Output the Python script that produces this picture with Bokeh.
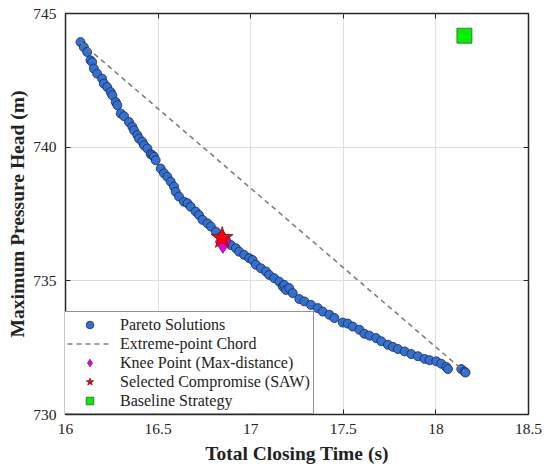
from bokeh.plotting import figure
from bokeh.models import Range1d, LinearAxis, FixedTicker, NumeralTickFormatter
from bokeh.embed import file_html
from bokeh.resources import INLINE

# ---- data ----
pareto_time = [
    16.081, 16.099, 16.117, 16.135, 16.144, 16.153, 16.171, 16.198, 16.207, 16.225,
    16.244, 16.253, 16.271, 16.280, 16.298, 16.316, 16.343, 16.361, 16.370, 16.388,
    16.397, 16.415, 16.424, 16.442, 16.460, 16.469, 16.478, 16.487, 16.514, 16.532,
    16.550, 16.568, 16.586, 16.595, 16.613, 16.640, 16.659, 16.676, 16.703, 16.721,
    16.740, 16.767, 16.785, 16.812, 16.839, 16.866, 16.893, 16.920, 16.938, 16.965,
    16.992, 17.010, 17.028, 17.055, 17.082, 17.100, 17.127, 17.154, 17.173, 17.181,
    17.190, 17.208, 17.227, 17.262, 17.290, 17.326, 17.362, 17.389, 17.425, 17.452,
    17.497, 17.524, 17.551, 17.587, 17.614, 17.641, 17.677, 17.705, 17.741, 17.768,
    17.795, 17.831, 17.867, 17.903, 17.939, 17.966, 18.002, 18.029, 18.056, 18.065,
    18.137, 18.155, 18.160,
]
pareto_head = [
    743.93, 743.74, 743.56, 743.25, 743.18, 742.94, 742.75, 742.56, 742.38, 742.25,
    742.06, 741.94, 741.69, 741.57, 741.26, 741.16, 740.94, 740.76, 740.63, 740.45,
    740.32, 740.20, 740.07, 739.95, 739.74, 739.70, 739.64, 739.51, 739.20, 739.02,
    738.89, 738.71, 738.52, 738.33, 738.15, 737.96, 737.90, 737.77, 737.59, 737.46,
    737.28, 737.15, 737.03, 736.84, 736.65, 736.53, 736.34, 736.22, 736.09, 735.97,
    735.85, 735.78, 735.60, 735.47, 735.35, 735.22, 735.10, 734.97, 734.79, 734.85,
    734.66, 734.73, 734.54, 734.32, 734.23, 734.10, 733.98, 733.85, 733.73, 733.61,
    733.44, 733.40, 733.29, 733.17, 733.02, 732.95, 732.86, 732.74, 732.61, 732.53,
    732.45, 732.36, 732.26, 732.18, 732.08, 732.03, 731.99, 731.90, 731.78, 731.70,
    731.70, 731.60, 731.57,
]
chord_time = [16.081, 18.155]
chord_head = [743.93, 731.60]
knee_time = [16.850]
knee_head = [736.46]
saw_time = [16.846]
saw_head = [736.60]
base_time = [18.154]
base_head = [744.17]

x_ticks = [16, 16.5, 17, 17.5, 18, 18.5]
x_tick_labels = ["16", "16.5", "17", "17.5", "18", "18.5"]
y_ticks = [730, 735, 740, 745]
y_tick_labels = ["730", "735", "740", "745"]

SERIF = "Liberation Serif"
INK = "#222222"

p = figure(width=550, height=476, output_backend="svg", toolbar_location=None,
           x_range=Range1d(16, 18.5), y_range=Range1d(730, 745),
           min_border_left=65, min_border_right=22, min_border_top=13, min_border_bottom=62)
p.background_fill_color = "white"
p.border_fill_color = "white"
p.outline_line_color = "#262626"
p.outline_line_width = 1.5

# grid
p.xgrid.ticker = FixedTicker(ticks=x_ticks)
p.ygrid.ticker = FixedTicker(ticks=y_ticks)
for g in (p.xgrid, p.ygrid):
    g.grid_line_color = "#dedede"
    g.grid_line_width = 1

def style_axis(ax, ticks, labels, show_labels=True):
    ax.ticker = FixedTicker(ticks=ticks)
    ax.formatter = NumeralTickFormatter(format="0.[0]")
    ax.axis_line_color = None
    ax.major_tick_in = 5
    ax.major_tick_out = 0
    ax.major_tick_line_color = "#262626"
    ax.major_tick_line_width = 1
    ax.minor_tick_line_color = None
    ax.major_label_text_font = SERIF
    if show_labels:
        ax.major_label_overrides = {t: l for t, l in zip(ticks, labels)}
        ax.major_label_text_font_size = "15.5px"
        ax.major_label_text_color = INK
    else:
        ax.major_label_text_font_size = "8px"
        ax.major_label_text_color = None
        ax.major_label_standoff = 0

style_axis(p.xaxis[0], x_ticks, x_tick_labels)
style_axis(p.yaxis[0], y_ticks, y_tick_labels)
p.xaxis[0].major_label_standoff = 9
p.yaxis[0].major_label_standoff = 9

p.xaxis.axis_label = "Total Closing Time (s)"
p.yaxis.axis_label = "Maximum Pressure Head (m)"
for ax in (p.xaxis[0], p.yaxis[0]):
    ax.axis_label_text_font = SERIF
    ax.axis_label_text_font_style = "bold"
    ax.axis_label_text_font_size = "19.5px"
    ax.axis_label_text_color = INK
p.xaxis[0].axis_label_standoff = 6
p.yaxis[0].axis_label_standoff = 2

top_ax = LinearAxis()
style_axis(top_ax, x_ticks, x_tick_labels, show_labels=False)
p.add_layout(top_ax, "above")
right_ax = LinearAxis()
style_axis(right_ax, y_ticks, y_tick_labels, show_labels=False)
p.add_layout(right_ax, "right")

# glyphs
p.scatter(pareto_time, pareto_head, marker="circle", size=9,
          fill_color="#3270d2", line_color="#1c2850", line_width=0.8,
          legend_label="Pareto Solutions")
p.line(chord_time, chord_head, line_color="#7f7f7f", line_width=1.6,
       line_dash="5 4", legend_label="Extreme-point Chord")
p.scatter(knee_time, knee_head, marker="diamond", size=23,
          fill_color="#e400e4", line_color="#6a2a6a", line_width=0.8,
          legend_label="Knee Point (Max-distance)")
p.scatter(saw_time, saw_head, marker="star", size=23,
          fill_color="#ff0000", line_color="#7a1010", line_width=0.8,
          legend_label="Selected Compromise (SAW)")
p.scatter(base_time, base_head, marker="square", size=15,
          fill_color="#00f000", line_color="#3a5a3a", line_width=0.8,
          legend_label="Baseline Strategy")

leg = p.legend[0]
leg.location = (-2, 0)
leg.margin = 0
leg.padding = 3
leg.spacing = 0
leg.glyph_width = 45
leg.glyph_height = 19
leg.label_height = 19
leg.label_standoff = 8
leg.label_text_font = SERIF
leg.label_text_font_size = "16px"
leg.label_text_color = INK
leg.border_line_color = "#262626"
leg.border_line_width = 1.5
leg.background_fill_color = "white"
leg.background_fill_alpha = 1.0

open("out.html", "w").write(file_html(p, INLINE))
